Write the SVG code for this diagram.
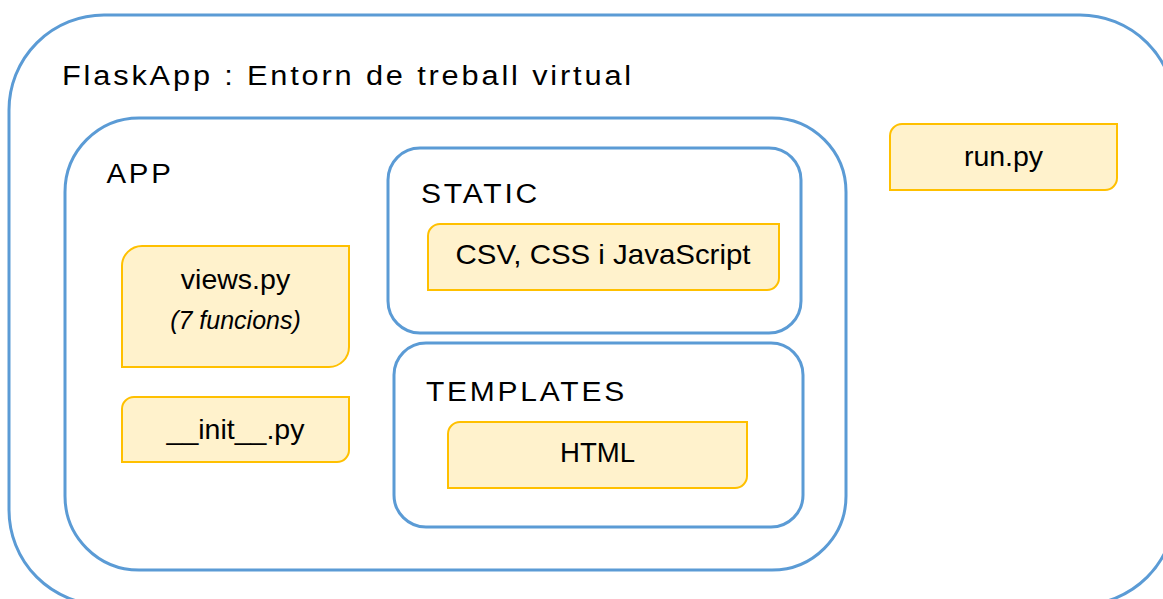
<svg xmlns="http://www.w3.org/2000/svg" width="1163" height="599" viewBox="0 0 1163 599">
  <style>
    .container { fill: #FFFFFF; stroke: #5B9BD5; stroke-width: 3; }
    .file { fill: #FFF2CC; stroke: #FFC000; stroke-width: 2; }
    .label { font-family: "Liberation Sans", Arial, sans-serif; font-size: 27px; letter-spacing: 2.5px; fill: #000000; }
    .name { font-family: "Liberation Sans", Arial, sans-serif; font-size: 28.5px; fill: #000000; text-anchor: middle; }
    .note { font-family: "Liberation Sans", Arial, sans-serif; font-size: 25px; font-style: italic; fill: #000000; text-anchor: middle; }
  </style>
  <rect width="1163" height="599" fill="#FFFFFF"/>

  <!-- Project root folder -->
  <g id="flaskapp">
    <rect class="container" x="9" y="15" width="1166" height="590" rx="95" ry="95"/>
    <text class="label" x="62" y="85" textLength="572" lengthAdjust="spacingAndGlyphs">FlaskApp : Entorn de treball virtual</text>
  </g>

  <!-- Application package -->
  <g id="app">
    <rect class="container" x="65" y="118" width="781" height="452" rx="74" ry="74"/>
    <text class="label" x="106.5" y="182.5" textLength="67" lengthAdjust="spacingAndGlyphs">APP</text>
  </g>

  <g id="static">
    <rect class="container" x="388" y="148" width="413" height="185" rx="32" ry="32"/>
    <text class="label" x="421" y="202.5" textLength="119" lengthAdjust="spacingAndGlyphs">STATIC</text>
  </g>

  <g id="templates">
    <rect class="container" x="394" y="343" width="409" height="184" rx="32" ry="32"/>
    <text class="label" x="426" y="400.5" textLength="201" lengthAdjust="spacingAndGlyphs">TEMPLATES</text>
  </g>

  <!-- Files: rounded top-left and bottom-right corners -->
  <g id="views">
    <path class="file" d="M142,246 H349 V347 A20,20 0 0 1 329,367 H122 V266 A20,20 0 0 1 142,246 Z"/>
    <text class="name" x="235.5" y="288.5">views.py</text>
    <text class="note" x="235.5" y="328.5">(7 funcions)</text>
  </g>

  <g id="init">
    <path class="file" d="M134,397 H349 V450 A12,12 0 0 1 337,462 H122 V409 A12,12 0 0 1 134,397 Z"/>
    <text class="name" x="235.5" y="438.5">__init__.py</text>
  </g>

  <g id="assets">
    <path class="file" d="M440,224 H779 V278 A12,12 0 0 1 767,290 H428 V236 A12,12 0 0 1 440,224 Z"/>
    <text class="name" x="603" y="263.5" textLength="295" lengthAdjust="spacingAndGlyphs">CSV, CSS i JavaScript</text>
  </g>

  <g id="html">
    <path class="file" d="M460,422 H747 V476 A12,12 0 0 1 735,488 H448 V434 A12,12 0 0 1 460,422 Z"/>
    <text class="name" x="597.5" y="462" textLength="75" lengthAdjust="spacingAndGlyphs">HTML</text>
  </g>

  <g id="run">
    <path class="file" d="M902,124 H1117 V178 A12,12 0 0 1 1105,190 H890 V136 A12,12 0 0 1 902,124 Z"/>
    <text class="name" x="1003.5" y="165.5">run.py</text>
  </g>

  <g id="connectors"/>
</svg>
